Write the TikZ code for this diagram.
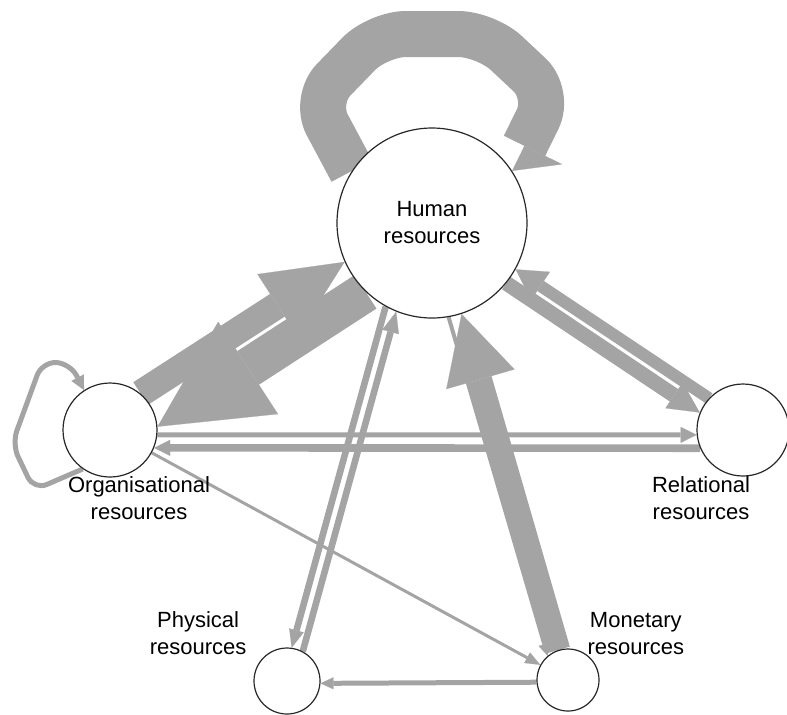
\documentclass[tikz,border=0pt]{standalone}
\usepackage{fontspec}
\setsansfont{Liberation Sans}
\usetikzlibrary{positioning, arrows.meta}
\definecolor{flowgray}{RGB}{164,164,164}
\definecolor{ringgray}{RGB}{40,40,40}
\pgfdeclarelayer{edges}
\pgfsetlayers{edges,main}
\newcommand{\resfont}{\sffamily\fontsize{11}{13.5}\selectfont}

\begin{document}
\begin{tikzpicture}[
    x=0.5pt, y=-0.5pt,
    res/.style={circle, draw=ringgray, line width=0.6pt, fill=white, inner sep=0pt},
    lab/.style={align=center, font=\resfont, inner sep=0pt},
    flow/.style={draw=flowgray, line width=#1},
    flowhead/.style 2 args={-{Triangle[length=#1, width=#2, line width=0.1pt]}},
]
\useasboundingbox (0,0) rectangle (787,714);

% ===== resources =====
\node[res, minimum size=95pt, font=\resfont, align=center] (human) at (432,223) {Human\\resources};
\node[res, minimum size=47pt] (org) at (110,430) {};
\node[res, minimum size=46pt] (rel) at (743,430) {};
\node[res, minimum size=33pt] (phys) at (287,681) {};
\node[res, minimum size=31pt] (mon) at (568,680) {};

% labels
\node[lab, below=-0.75pt of org, xshift=14.5pt] (orglab) {Organisational\\resources};
\node[lab, below=-0.25pt of rel, xshift=-21pt] (rellab) {Relational\\resources};
\node[lab, above left=1.1pt and 8.2pt of phys] (physlab) {Physical\\resources};
\node[lab, above right=1.3pt and -1.6pt of mon] (monlab) {Monetary\\resources};

% ===== flows =====
\begin{pgfonlayer}{edges}
% self loops
\draw[flow=23pt, -{Triangle[harpoon, length=14pt, width=42pt, line width=0.1pt]}, rounded corners=14pt]
    (human.147) -- (314,100) -- (378,34) -- (486,34) -- (550,94) -- (human.33);
\draw[flow=2.5pt, flowhead={7pt}{7pt}, rounded corners=7pt]
    (org.235) -- (34,490) -- (12,444) -- (42,362) -- (70,363) -- (org.123);

% organisational <-> human
\draw[flow=13.5pt, flowhead={40pt}{37pt}] (org.50.1) -- (human.204.3);
\draw[flow=20pt, flowhead={54pt}{55pt}] (human.226.1) -- (org.4.8);

% human <-> relational
\draw[flow=6pt, flowhead={15pt}{17pt}] (rel.137) -- (human.-29.1);
\draw[flow=7.5pt, flowhead={15.5pt}{15.5pt}] (human.-39.4) -- (rel.158.3);

% organisational <-> relational
\draw[flow=2.5pt, flowhead={8pt}{8pt}] (org.-6) -- (rel.186);
\draw[flow=3.8pt, flowhead={8pt}{8pt}] (rel.203) -- (org.-22.5);

% human <-> physical
\draw[flow=3.3pt, flowhead={9pt}{7.5pt}] (human.241) -- (phys.82);
\draw[flow=3.3pt, flowhead={10.5pt}{8.5pt}] (phys.62) -- (human.248);

% monetary <-> human
\draw[flow=11.5pt, flowhead={34pt}{35.5pt}] (mon.107) -- (human.288);
\draw[flow=2pt, flowhead={6pt}{6pt}] (human.280) -- (mon.130);

% remaining single flows
\draw[flow=1.5pt, flowhead={7.5pt}{6pt}] (org) -- (mon);
\draw[flow=2.5pt, flowhead={6.5pt}{6pt}] (mon.184) -- (phys.-4);
\end{pgfonlayer}

\end{tikzpicture}
\end{document}
